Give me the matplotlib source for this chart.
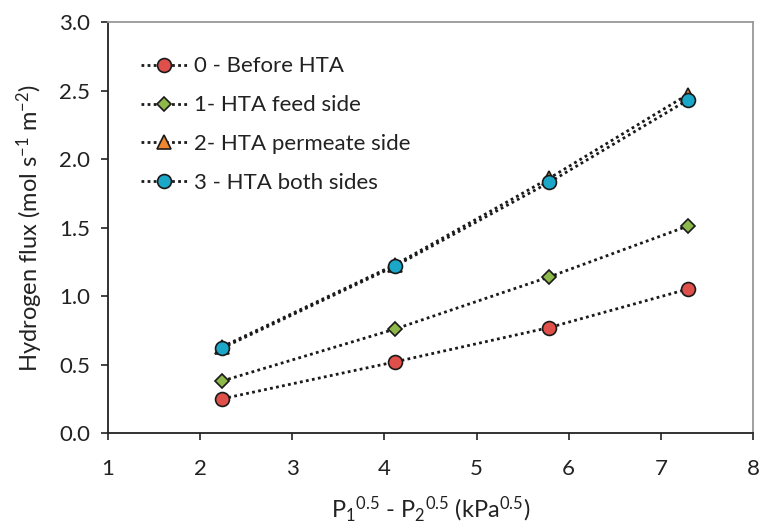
import matplotlib
matplotlib.use("Agg")
import matplotlib.pyplot as plt

plt.rcParams['font.family'] = ['Lato', 'DejaVu Sans']
plt.rcParams['mathtext.fontset'] = 'custom'
plt.rcParams['mathtext.rm'] = 'Lato'
plt.rcParams['mathtext.it'] = 'Lato'

x = [2.24, 4.12, 5.79, 7.29]
before = [0.25, 0.52, 0.77, 1.05]
feed = [0.38, 0.76, 1.14, 1.51]
permeate = [0.63, 1.23, 1.86, 2.47]
both = [0.62, 1.22, 1.83, 2.43]

labels = ["0 - Before HTA", "1- HTA feed side", "2- HTA permeate side", "3 - HTA both sides"]
xticks = [1, 2, 3, 4, 5, 6, 7, 8]
yticks = [0.0, 0.5, 1.0, 1.5, 2.0, 2.5, 3.0]

fig = plt.figure(figsize=(7.59, 5.28), dpi=100)
ax = fig.add_axes([0.1423, 0.1799, 0.8498, 0.7784])

styles = [
    (before, 'o', '#E0504B', 10),
    (feed, 'D', '#8DB84A', 7.5),
    (permeate, '^', '#F0862E', 10),
    (both, 'o', '#1AA7C8', 10),
]
for (ys, m, c, ms), lab in zip(styles, labels):
    ax.plot(x, ys, linestyle=(0, (1, 1.2)), color='#1a1a1a', linewidth=2,
            marker=m, markersize=ms, markerfacecolor=c, markeredgecolor='#1a1a1a',
            markeredgewidth=1.2, label=lab)

ax.set_xlim(1, 8)
ax.set_ylim(0, 3.0)
ax.set_xticks(xticks)
ax.set_yticks(yticks)
ax.set_xticklabels([str(t) for t in xticks])
ax.set_yticklabels([f"{t:.1f}" for t in yticks])
ax.tick_params(direction='out', length=5, width=1.2, labelsize=16, colors='#222222', pad=8)
ax.tick_params(axis='x', pad=14)

for s in ['left', 'bottom']:
    ax.spines[s].set_color('#222222')
    ax.spines[s].set_linewidth(1.3)
for s in ['top', 'right']:
    ax.spines[s].set_color('#999999')
    ax.spines[s].set_linewidth(1.3)

ax.set_xlabel(r"P$_1$$^{0.5}$ - P$_2$$^{0.5}$ (kPa$^{0.5}$)", fontsize=17, color='#222222', labelpad=11)
ax.set_ylabel(r"Hydrogen flux (mol s$^{{-}1}$ m$^{{-}2}$)", fontsize=17, color='#222222', labelpad=10)

leg = ax.legend(loc='upper left', bbox_to_anchor=(0.02, 0.965), frameon=False, fontsize=16,
                handlelength=2.1, labelspacing=0.85, handletextpad=0.3)
for t in leg.get_texts():
    t.set_color('#222222')

fig.savefig("out.png", dpi=100)
